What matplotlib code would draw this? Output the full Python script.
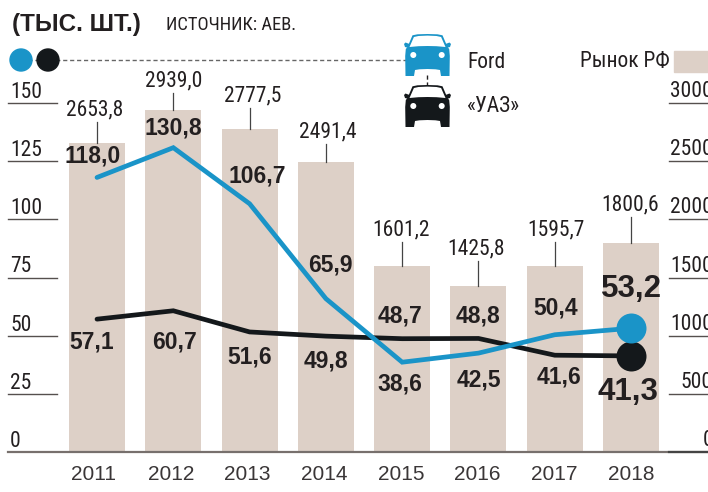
import matplotlib
matplotlib.use('Agg')
import matplotlib.pyplot as plt
from matplotlib.patches import Polygon, Circle, Rectangle

years = ['2011', '2012', '2013', '2014', '2015', '2016', '2017', '2018']
market = [2653.8, 2939.0, 2777.5, 2491.4, 1601.2, 1425.8, 1595.7, 1800.6]
ford = [118.0, 130.8, 106.7, 65.9, 38.6, 42.5, 50.4, 53.2]
uaz = [57.1, 60.7, 51.6, 49.8, 48.7, 48.8, 41.6, 41.3]
left_ticks = [0, 25, 50, 75, 100, 125, 150]
right_ticks = [0, 500, 1000, 1500, 2000, 2500, 3000]

BLUE = '#1a94c8'
BLACK = '#14181b'
BAR = '#ddd0c7'
INK = '#231f20'
NARROW = ['Roboto Condensed', 'PT Sans Narrow', 'Liberation Sans']
SANS = 'Liberation Sans'

# сдвиги подписей от точек, в пикселях
market_stem = [21, 17, 21, 18, 24, 25, 24, 26]
market_dx = [-2, 0, 3, 2, -1, -2, 1, -1]
ford_off = [(-4, 21), (0, 20), (8, 28), (4, 34), (-2, -22), (0, -27), (1, 27), (0, 39)]
uaz_off = [(-5, -23), (1, -31), (0, -25), (0, -25), (-2, 23), (0, 22), (4, -22), (-3, -36)]

fig = plt.figure(figsize=(7.08, 4.92), dpi=100)
ax = fig.add_axes([0, 0, 1, 1])
ax.axis('off')
# 0 на y=452, 150 на y=103, категории через 76.3 пикселя
unit = 349 / 150
ax.set_ylim(-(492 - 452) / unit, 452 / unit)
ax.set_xlim(-97 / 76.3, (708 - 97) / 76.3)
scale = 150 / 3000

xs = list(range(len(years)))
ax.bar(xs, [m * scale for m in market], width=56 / 76.3, color=BAR, zorder=1)
ax.plot(xs, uaz, color=BLACK, lw=3.4, zorder=3, solid_capstyle='round', solid_joinstyle='miter')
ax.plot(xs, ford, color=BLUE, lw=3.4, zorder=4, solid_capstyle='round', solid_joinstyle='miter')
ax.scatter(xs[-1], uaz[-1], s=(30 * 0.72) ** 2, color=BLACK, zorder=5, linewidths=0)
ax.scatter(xs[-1], ford[-1], s=(30 * 0.72) ** 2, color=BLUE, zorder=6, linewidths=0)

for i, m in enumerate(market):
    top = m * scale
    ax.plot([i, i], [top, top + market_stem[i] / unit], color='#444444', lw=0.9, zorder=2)
    ax.annotate(f'{m:.1f}'.replace('.', ','), xy=(i, top), xytext=(market_dx[i], market_stem[i] + 12),
                textcoords='offset pixels', ha='center', va='center',
                family=NARROW, fontsize=15.5, color=INK, zorder=7)

for i in xs:
    big = i == xs[-1]
    for vals, off in ((ford, ford_off), (uaz, uaz_off)):
        ax.annotate(f'{vals[i]:.1f}'.replace('.', ','), xy=(i, vals[i]), xytext=off[i],
                    textcoords='offset pixels', ha='center', va='center',
                    family=SANS, fontweight='bold', fontsize=22.5 if big else 16.5,
                    color=INK, zorder=7)

# слой в пикселях для осей, легенды и машин
ov = fig.add_axes([0, 0, 1, 1])
ov.set_xlim(0, 708)
ov.set_ylim(492, 0)
ov.axis('off')
ov.patch.set_alpha(0)


def to_y(v):
    return 452 - v * unit


ov.plot([8, 708], [452, 452], color='#77706d', lw=1.6, zorder=1)
ov.plot([669, 708], [452, 452], color='#444444', lw=1.6, zorder=2)

for v in left_ticks:
    y = to_y(v)
    if v:
        ov.plot([8, 57], [y, y], color='#55504e', lw=1)
    ov.text(10, y - 5, str(v), family=NARROW, fontsize=15.5, color=INK, ha='left', va='baseline')

for v in right_ticks:
    y = to_y(v * scale)
    if v:
        ov.plot([669, 708], [y, y], color='#55504e', lw=1)
    # как в исходнике, правый край подписей срезан кромкой
    ov.text(713, y - 6, str(v), family=NARROW, fontsize=15.5, color=INK, ha='right', va='baseline')

for i, year in enumerate(years):
    ov.text(94 + 76.7 * i, 475, year, family=SANS, fontsize=15, color='#3a3637', ha='center', va='center')

ov.text(12, 24, '(ТЫС. ШТ.)', family=SANS, fontweight='bold', fontsize=17.5, color=INK, ha='left', va='center')
ov.text(166, 25, 'ИСТОЧНИК: АЕВ.', family=NARROW, fontsize=13.3, color=INK, ha='left', va='center')

ov.plot([21, 408], [60, 60], color='#666666', lw=1, ls=(0, (3, 2)), zorder=1)
ov.plot([427, 427], [75, 87], color=INK, lw=1, ls=(0, (3, 2)), zorder=1)
ov.add_patch(Circle((21, 60), 11, color=BLUE, zorder=3))
ov.add_patch(Circle((48, 60), 11, color=BLACK, zorder=3))


def mirror(c, top, half):
    right = [(c + dx, top + y) for dx, y in half]
    left = [(c - dx, top + y) for dx, y in reversed(half)]
    return right + left


def car(top, color):
    c = 427.5
    body = [(0, 0), (10, 0.3), (15, 1.3), (20, 13), (21.7, 15), (22.3, 22), (22, 42),
            (13.5, 42), (12.5, 36), (8, 35.3), (0, 35)]
    ov.add_patch(Polygon(mirror(c, top, body), closed=True, color=color, zorder=3, lw=0))
    glass = [(0, 1.6), (9, 2), (13.6, 3), (18, 13), (9, 12.2), (0, 12)]
    ov.add_patch(Polygon(mirror(c, top, glass), closed=True, color='white', zorder=4, lw=0))
    for s in (-1, 1):
        ov.add_patch(Polygon([(c + s * 18, top + 10), (c + s * 22, top + 8.5), (c + s * 23.5, top + 10),
                              (c + s * 22.5, top + 13), (c + s * 19, top + 14)], closed=True, color=color, zorder=3, lw=0))
        ov.add_patch(Circle((c + s * 14.2, top + 21), 3, color='white', zorder=4, lw=0))


car(34, BLUE)
car(85, BLACK)
ov.text(467, 62, 'Ford', family=NARROW, fontsize=15.5, color=INK, ha='left', va='center')
ov.text(467, 107, '«УАЗ»', family=NARROW, fontsize=15.5, color=INK, ha='left', va='center')
ov.text(580, 62, 'Рынок РФ', family=NARROW, fontsize=15.5, color=INK, ha='left', va='center')
ov.add_patch(Rectangle((674, 51), 34, 21, color=BAR, zorder=1))

fig.savefig('out.png', dpi=100)
